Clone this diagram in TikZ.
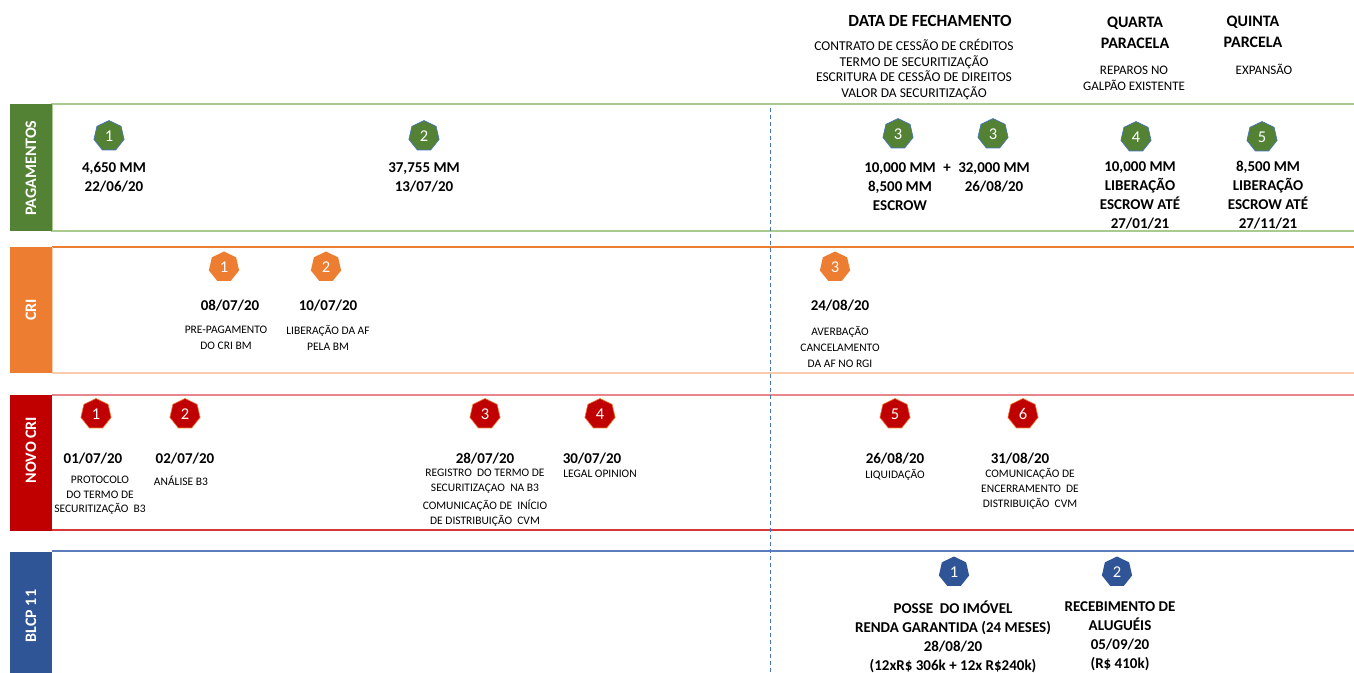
\documentclass[tikz,border=0pt]{standalone}
\usepackage{fontspec}
\setmainfont{Carlito}
\usetikzlibrary{shapes.geometric}

\definecolor{verde}{HTML}{548235}
\definecolor{verdeclaro}{HTML}{A9CB8F}
\definecolor{laranja}{HTML}{ED7D31}
\definecolor{laranjaclaro}{HTML}{F8CBAD}
\definecolor{vermelho}{HTML}{C00000}
\definecolor{rosa}{HTML}{E8868B}
\definecolor{vermelhoclaro}{HTML}{D9383A}
\definecolor{azul}{HTML}{2F5597}
\definecolor{azulclaro}{HTML}{5B7DBB}
\definecolor{tracejado}{HTML}{4472C4}

\begin{document}
\begin{tikzpicture}[x=1pt,y=-1pt,
  marca/.style={regular polygon,regular polygon sides=7,minimum size=31pt,inner sep=0pt,
    text=white,font=\fontsize{16.5}{16.5}\selectfont},
  rotulo/.style={rotate=90,text=white,font=\bfseries\fontsize{16}{18}\selectfont},
  valor/.style={align=center,font=\bfseries\fontsize{15}{19}\selectfont},
  nota/.style={align=center,font=\fontsize{11.5}{15}\selectfont}]
\useasboundingbox[fill=white] (0,0) rectangle (1354,672);

%% faixas
\draw[verdeclaro,line width=2pt] (52,104) rectangle (1370,231);
\fill[verde] (10,104) rectangle (52,231);
\node[rotulo] (tpag) at (31,168) {PAGAMENTOS};

\draw[laranja,line width=1.5pt] (52,247) -- (1370,247);
\draw[laranjaclaro,line width=2.5pt] (52,373) -- (1370,373);
\draw[laranjaclaro,line width=1pt] (52,247) -- (52,373);
\fill[laranja] (10,247) rectangle (52,373);
\node[rotulo] (tcri) at (31,310) {CRI};

\draw[rosa,line width=2pt] (52,395) -- (1370,395);
\draw[vermelhoclaro,line width=2pt] (52,530) -- (1370,530);
\fill[vermelho] (10,395) rectangle (52,531);
\node[rotulo] (tnovo) at (31,450) {NOVO CRI};

\draw[azulclaro,line width=2pt] (52,551) -- (1370,551);
\fill[azul] (10,552) rectangle (52,680);
\node[rotulo] (tblcp) at (31,616) {BLCP 11};

%% linha da data de fechamento
\draw[tracejado,dashed,dash pattern=on 4pt off 3pt,line width=0.8pt] (770,108) -- (770,672);

%% cabecalho
\node[font=\bfseries\fontsize{17}{20}\selectfont] (fech) at (930,21) {DATA DE FECHAMENTO};
\node[align=center,font=\fontsize{13.5}{15.7}\selectfont] (docs) at (914,69.5)
  {CONTRATO DE CESSÃO DE CRÉDITOS\\TERMO DE SECURITIZAÇÃO\\ESCRITURA DE CESSÃO DE DIREITOS\\VALOR DA SECURITIZAÇÃO};
\node[align=center,font=\bfseries\fontsize{16}{21}\selectfont] (quarta) at (1135,32.5) {QUARTA\\PARACELA};
\node[align=center,font=\fontsize{13}{16}\selectfont] (reparos) at (1134,78) {REPAROS NO\\GALPÃO EXISTENTE};
\node[align=center,font=\bfseries\fontsize{16}{21}\selectfont] (quinta) at (1253,32) {QUINTA\\PARCELA};
\node[font=\fontsize{13}{16}\selectfont] (expansao) at (1264,69) {EXPANSÃO};

%% pagamentos
\foreach \nome/\px/\py/\num in {p1/109/136/1,p2/424/136/2,p3a/898/134/3,p3b/993/134/3,p4/1136/137/4,p5/1262/137/5}
  \node[marca,fill=verde,draw=tracejado,line width=0.6pt] (\nome) at (\px,\py) {\num};
\node[valor] (v1) at (114,177.5) {4,650 MM\\22/06/20};
\node[valor] (v2) at (424,177.5) {37,755 MM\\13/07/20};
\node[valor] (v3a) at (900,187) {10,000 MM\\8,500 MM\\ESCROW};
\node[valor] (mais) at (947,168) {+};
\node[valor] (v3b) at (994,177.5) {32,000 MM\\26/08/20};
\node[valor] (v4) at (1140,195) {10,000 MM\\LIBERAÇÃO\\ESCROW ATÉ\\27/01/21};
\node[valor] (v5) at (1268,195) {8,500 MM\\LIBERAÇÃO\\ESCROW ATÉ\\27/11/21};

%% cri
\foreach \nome/\px/\py/\num in {c1/224/267/1,c2/326/267/2,c3/835/267/3}
  \node[marca,fill=laranja] (\nome) at (\px,\py) {\num};
\node[valor] (dc1) at (230,306) {08/07/20};
\node[valor] (dc2) at (328,306) {10/07/20};
\node[valor] (dc3) at (840,306) {24/08/20};
\node[nota,font=\fontsize{11.5}{16}\selectfont] (nc1) at (226,338) {PRE-PAGAMENTO\\DO CRI BM};
\node[nota,font=\fontsize{11.5}{16}\selectfont] (nc2) at (328,338) {LIBERAÇÃO DA AF\\PELA BM};
\node[nota,font=\fontsize{11.5}{16}\selectfont] (nc3) at (840,347) {AVERBAÇÃO\\CANCELAMENTO\\DA AF NO RGI};

%% novo cri
\foreach \nome/\px/\py/\num in {n1/96/414/1,n2/185/414/2,n3/485/414/3,n4/600/414/4,n5/895/414/5,n6/1023/414/6}
  \node[marca,fill=vermelho,draw=laranja,line width=0.6pt] (\nome) at (\px,\py) {\num};
\node[valor] (dn1) at (93,459) {01/07/20};
\node[valor] (dn2) at (185,459) {02/07/20};
\node[valor] (dn3) at (485,459) {28/07/20};
\node[valor] (dn4) at (592,459) {30/07/20};
\node[valor] (dn5) at (895,459) {26/08/20};
\node[valor] (dn6) at (1020,459) {31/08/20};
\node[nota,font=\fontsize{11.5}{14.5}\selectfont] (nn1) at (100,495.5) {PROTOCOLO\\DO TERMO DE\\SECURITIZAÇÃO~~B3};
\node[nota] (nn2) at (181,481) {ANÁLISE B3};
\node[nota] (nn3a) at (485,481.5) {REGISTRO~~DO TERMO DE\\SECURITIZAÇAO~~NA B3};
\node[nota] (nn3b) at (485,513.5) {COMUNICAÇÃO DE~~INÍCIO\\DE DISTRIBUIÇÃO~~CVM};
\node[nota] (nn4) at (600,474) {LEGAL OPINION};
\node[nota] (nn5) at (895,475) {LIQUIDAÇÃO};
\node[nota] (nn6) at (1030,489) {COMUNICAÇÃO DE\\ENCERRAMENTO~~DE\\DISTRIBUIÇÃO~~CVM};

%% blcp 11
\foreach \nome/\px/\py/\num in {b1/954/572/1,b2/1117/572/2}
  \node[marca,fill=azul] (\nome) at (\px,\py) {\num};
\node[valor] (vb1) at (953,636.5) {POSSE~~DO IMÓVEL\\RENDA GARANTIDA (24 MESES)\\28/08/20\\(12xR\$ 306k + 12x R\$240k)};
\node[valor] (vb2) at (1120,636.5) {RECEBIMENTO DE\\ALUGUÉIS\\05/09/20\\(R\$ 410k)};

\end{tikzpicture}
\end{document}
